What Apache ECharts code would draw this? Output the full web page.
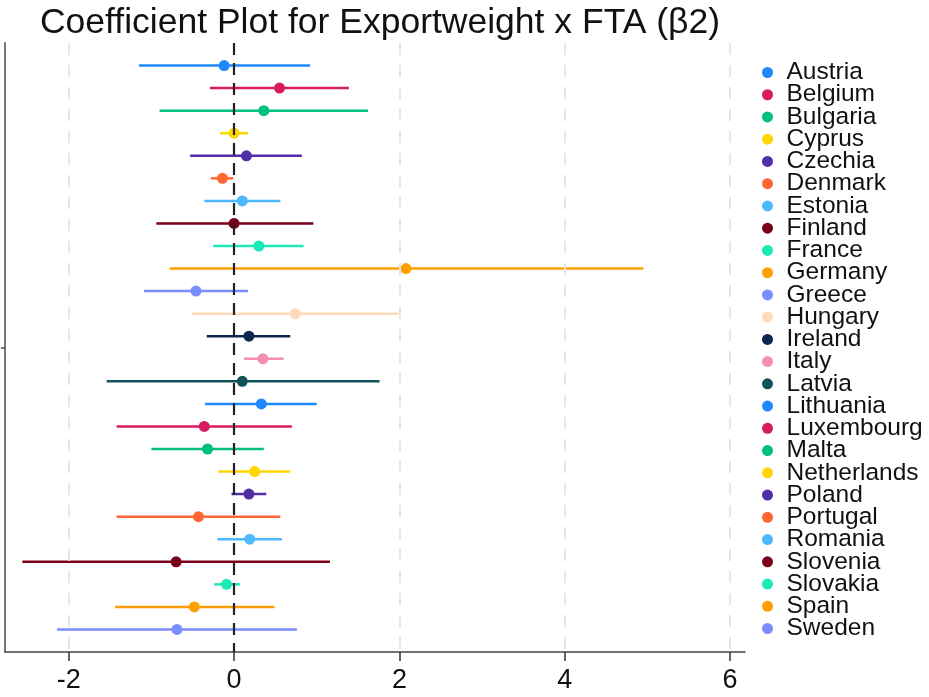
<!DOCTYPE html>
<html>
<head>
<meta charset="utf-8">
<script src="https://cdn.jsdelivr.net/npm/echarts@6/dist/echarts.min.js"></script>
<style>
  html, body { margin: 0; padding: 0; background: #fff; }
  #chart { width: 929px; height: 697px; }
</style>
</head>
<body>
<div id="chart"></div>
<script>
// Country-level coefficient estimates with 95% confidence bounds
const countries = ['Austria', 'Belgium', 'Bulgaria', 'Cyprus', 'Czechia', 'Denmark', 'Estonia',
  'Finland', 'France', 'Germany', 'Greece', 'Hungary', 'Ireland', 'Italy', 'Latvia',
  'Lithuania', 'Luxembourg', 'Malta', 'Netherlands', 'Poland', 'Portugal', 'Romania',
  'Slovenia', 'Slovakia', 'Spain', 'Sweden'];
const estimates = [-0.12, 0.55, 0.36, 0.00, 0.15, -0.14, 0.10, 0.00, 0.30, 2.08, -0.46, 0.74, 0.18,
  0.35, 0.10, 0.33, -0.36, -0.32, 0.25, 0.18, -0.43, 0.19, -0.70, -0.09, -0.48, -0.69];
const lower = [-1.15, -0.29, -0.90, -0.17, -0.53, -0.28, -0.36, -0.94, -0.25, -0.78, -1.09, -0.51, -0.33,
  0.12, -1.54, -0.35, -1.42, -1.00, -0.19, -0.03, -1.42, -0.20, -2.56, -0.24, -1.44, -2.14];
const upper = [0.92, 1.39, 1.62, 0.17, 0.82, -0.01, 0.56, 0.96, 0.84, 4.95, 0.17, 1.99, 0.68,
  0.60, 1.76, 1.00, 0.70, 0.36, 0.68, 0.39, 0.56, 0.58, 1.16, 0.07, 0.49, 0.76];
const xTicks = [-2, 0, 2, 4, 6];

const palette = ['#1f88ff', '#d81b60', '#00c07f', '#ffd600', '#512da8', '#ff6633', '#4db8ff',
  '#7a0019', '#1de9b6', '#ffa000', '#7b8cff', '#ffd9b8', '#0d2550', '#f48fb1', '#0f5257'];

const FONT = 'Liberation Sans, Arial, sans-serif';
const series = [];

// Reference lines: light dashed grid and the dashed zero line
series.push({
  type: 'scatter',
  data: [],
  silent: true,
  z: 1,
  markLine: {
    silent: true,
    symbol: 'none',
    label: { show: false },
    lineStyle: { color: '#e6e6e6', type: [12, 10], width: 2 },
    data: xTicks.filter(v => v !== 0).map(v => ({ xAxis: v }))
  }
});
series.push({
  type: 'scatter',
  data: [],
  silent: true,
  z: 3,
  markLine: {
    silent: true,
    symbol: 'none',
    label: { show: false },
    lineStyle: { color: '#222', type: [12, 8], width: 2.2 },
    data: [{ xAxis: 0 }]
  }
});

countries.forEach((name, i) => {
  const color = palette[i % palette.length];
  // confidence interval segment
  series.push({
    name: name,
    type: 'custom',
    z: 2,
    itemStyle: { color: color },
    data: [[lower[i], upper[i], i + 1]],
    encode: { x: [0, 1], y: 2 },
    renderItem: function (params, api) {
      const a = api.coord([api.value(0), api.value(2)]);
      const b = api.coord([api.value(1), api.value(2)]);
      return {
        type: 'line',
        shape: { x1: a[0], y1: a[1], x2: b[0], y2: b[1] },
        style: { stroke: color, lineWidth: 2.5 }
      };
    }
  });
  // point estimate
  series.push({
    name: name,
    type: 'scatter',
    z: 4,
    symbol: 'circle',
    symbolSize: 11,
    itemStyle: { color: color, opacity: 1 },
    data: [[estimates[i], i + 1]]
  });
});

const chart = echarts.init(document.getElementById('chart'), null, { renderer: 'canvas' });
chart.setOption({
  animation: false,
  backgroundColor: '#fff',
  title: {
    text: 'Coefficient Plot for Exportweight x FTA (β2)',
    left: 375,
    textAlign: 'center',
    top: 0,
    textStyle: { fontFamily: FONT, fontSize: 35.5, fontWeight: 'normal', color: '#111' }
  },
  legend: {
    data: countries,
    orient: 'vertical',
    left: 762,
    top: 60,
    icon: 'circle',
    itemWidth: 28,
    itemHeight: 11,
    itemGap: -2.76,
    padding: 0,
    textStyle: { fontFamily: FONT, fontSize: 24.5, color: '#111' }
  },
  grid: { left: 5, right: 184, top: 43, bottom: 45, containLabel: false },
  xAxis: {
    type: 'value',
    position: 'bottom',
    min: -2.77,
    max: 6.18,
    axisLine: { show: true, onZero: false, lineStyle: { color: '#444', width: 1.5 } },
    axisTick: { show: true, customValues: xTicks, length: 9, lineStyle: { color: '#333', width: 1.5 } },
    axisLabel: { customValues: xTicks, fontFamily: FONT, fontSize: 27, color: '#111', margin: 15 },
    splitLine: { show: false }
  },
  yAxis: {
    type: 'value',
    position: 'left',
    min: 0,
    max: 27,
    inverse: true,
    axisLine: { show: true, onZero: false, lineStyle: { color: '#777', width: 2 } },
    axisTick: { show: true, customValues: [13.5], length: 4, lineStyle: { color: '#444', width: 1.5 } },
    axisLabel: { show: false },
    splitLine: { show: false }
  },
  series: series
});
</script>
</body>
</html>
